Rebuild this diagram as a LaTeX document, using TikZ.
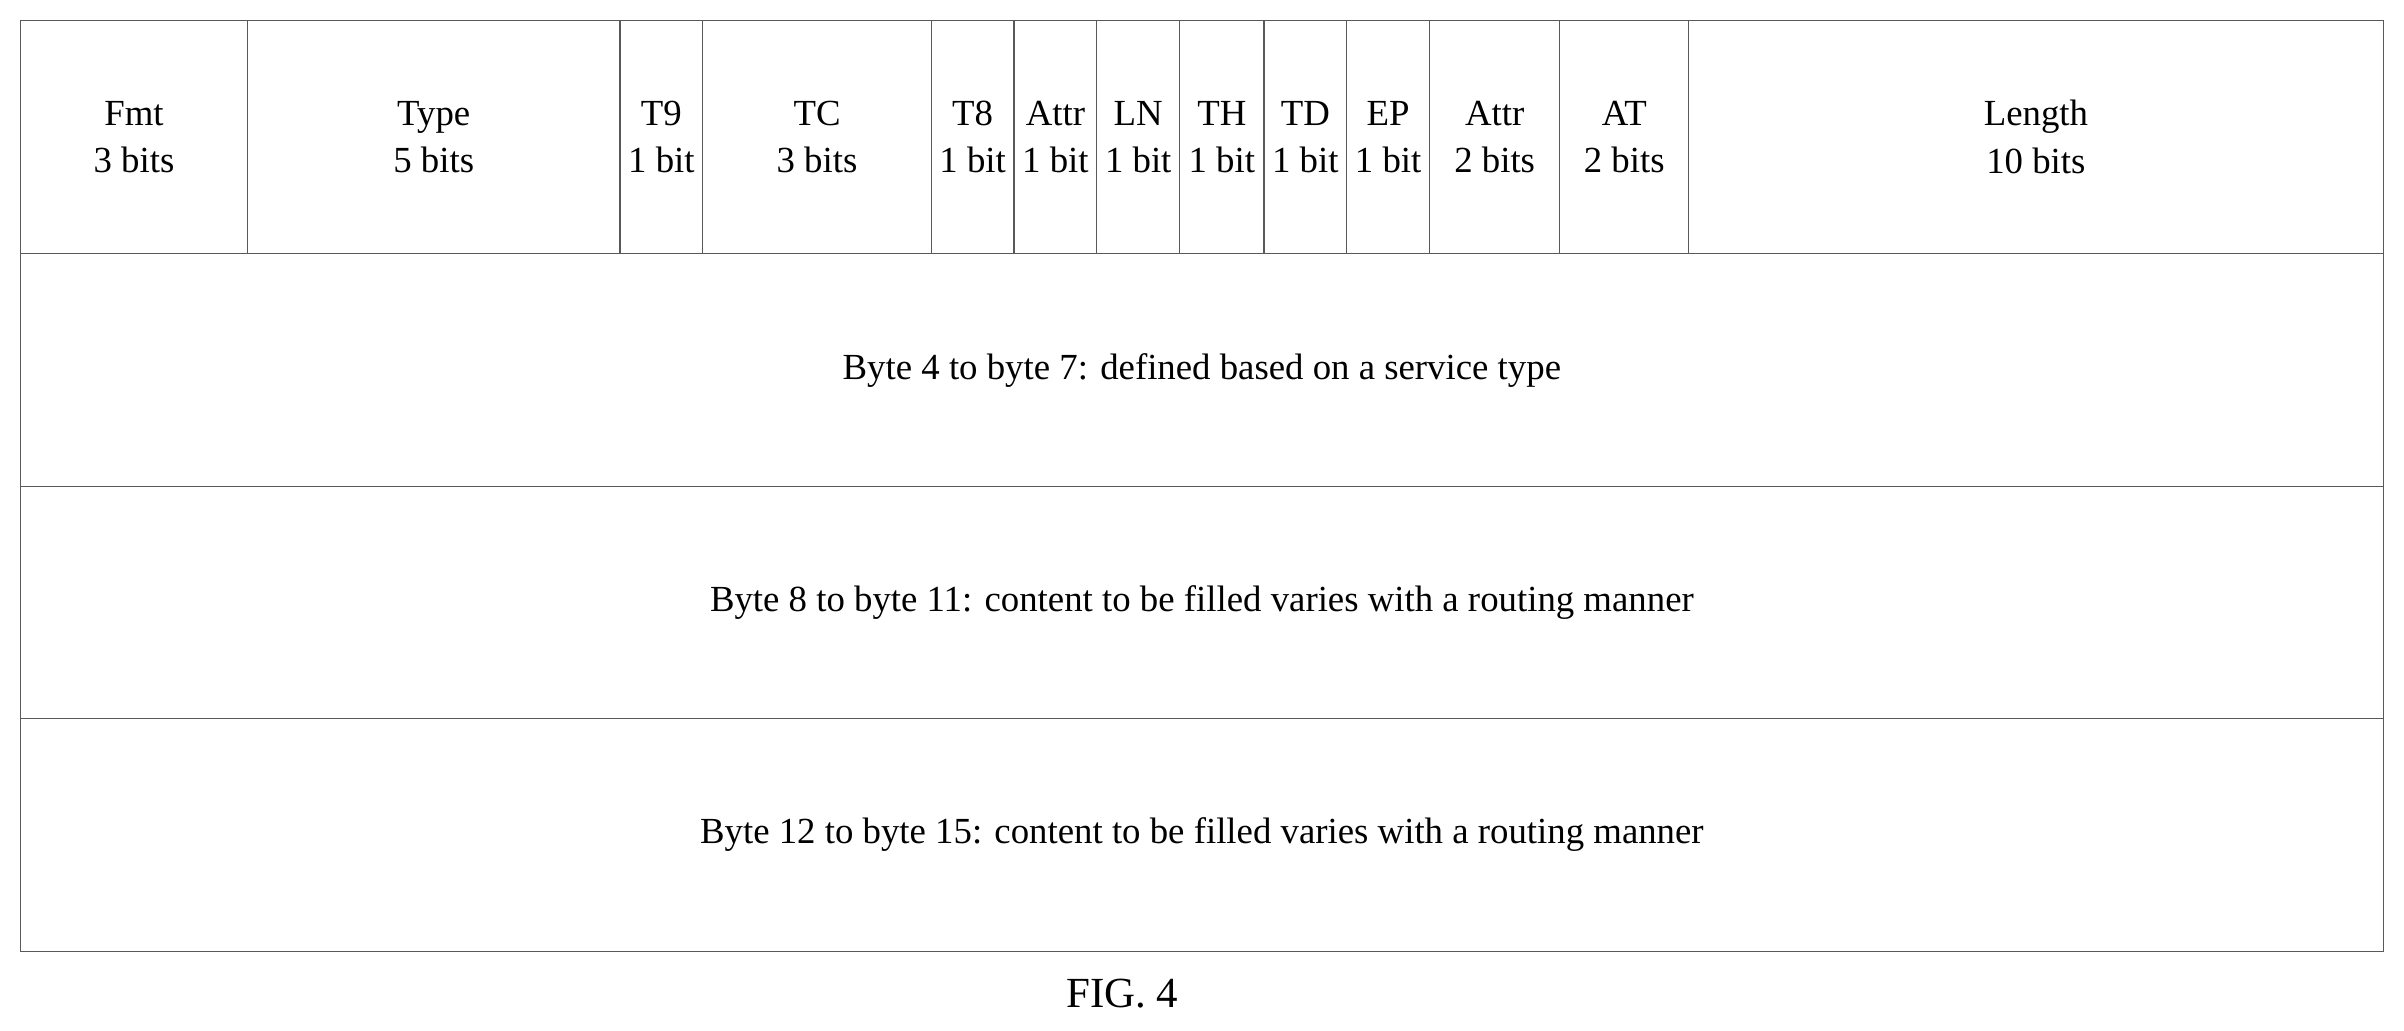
\documentclass[tikz,border=0pt]{standalone}
\usepackage{fontspec}
\setmainfont{Liberation Serif}
\begin{document}
\begin{tikzpicture}[x=1pt,y=-1pt,
  cell/.style={draw=black!65, line width=0.8pt, inner sep=0pt, align=center,
    font=\fontsize{24}{31}\selectfont, anchor=north west}]

\useasboundingbox (0,0) rectangle (1568,672);

% header fields
\foreach \l/\r/\nm/\txt in {13/161/fmt/{Fmt\\3 bits}, 161/404/type/{Type\\5 bits},
  404/458/tnine/{T9\\1 bit}, 458/607/tc/{TC\\3 bits}, 607/661/teight/{T8\\1 bit},
  661/715/attra/{Attr\\1 bit}, 715/769/ln/{LN\\1 bit}, 769/824/th/{TH\\1 bit},
  824/878/td/{TD\\1 bit}, 878/932/ep/{EP\\1 bit}, 932/1017/attrb/{Attr\\2 bits},
  1017/1101/at/{AT\\2 bits}, 1101/1554/len/{Length\\10 bits}}
  \node[cell, minimum width={\r-\l}, minimum height=152] (\nm) at (\l,13) {\txt};

% byte rows
\node[cell, minimum width=1541, minimum height=152] (rowa) at (13,165)
  {Byte 4 to byte 7: defined based on a service type};
\node[cell, minimum width=1541, minimum height=151] (rowb) at (13,317)
  {Byte 8 to byte 11: content to be filled varies with a routing manner};
\node[cell, minimum width=1541, minimum height=152] (rowc) at (13,468)
  {Byte 12 to byte 15: content to be filled varies with a routing manner};

% caption
\node[font=\fontsize{28}{32}\selectfont] (cap) at (732,648) {FIG. 4};

\end{tikzpicture}
\end{document}
